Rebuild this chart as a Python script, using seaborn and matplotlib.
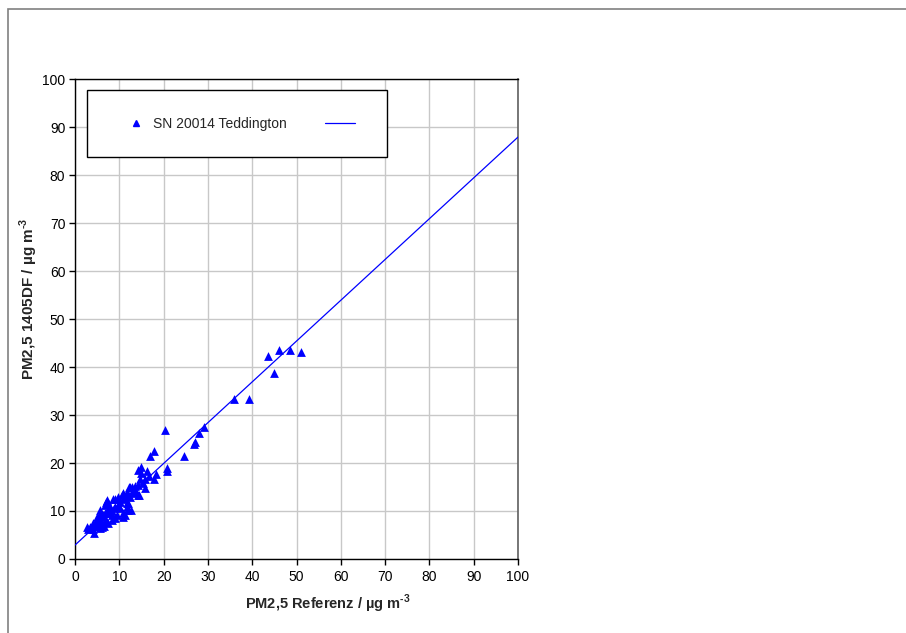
import matplotlib
matplotlib.use("Agg")
import matplotlib.pyplot as plt
from matplotlib.patches import Rectangle
from matplotlib.lines import Line2D
import seaborn as sns
import pandas as pd

# ---- data ----
series_name = "SN 20014 Teddington"
ref_x = [
    20.3, 17.8, 16.9, 15.0, 14.3, 15.0, 16.3, 18.3, 17.8, 20.7, 20.8, 24.7,
    26.9, 27.2, 28.1, 29.2, 35.9, 39.2, 43.5, 45.0, 46.0, 48.5, 51.0,
    14.7, 15.7, 16.6, 15.4, 14.3, 13.5, 12.8, 12.2, 15.8, 14.5, 13.8, 13.2,
    12.4, 12.0, 11.7, 11.3, 10.5, 9.8, 9.0, 12.0, 11.7, 12.6, 11.3, 10.9,
    10.2, 9.6, 8.7, 8.3, 7.5, 7.1, 7.9, 7.5, 6.8, 9.0, 8.3, 6.4, 5.6, 5.3,
    4.9, 6.0, 6.8, 5.3, 4.5, 3.4, 3.0, 4.1, 4.4, 6.0, 7.5, 6.6, 4.7,
    12.4, 10.9, 14.3, 8.6, 10.2, 11.7, 6.8, 12.0, 10.9, 5.6, 7.5, 9.0, 4.9,
    6.4, 8.3, 9.4, 4.1, 5.6, 7.1, 5.6, 2.7, 7.3, 13.0, 11.0,
]
dev_y = [
    26.9, 22.6, 21.5, 19.2, 18.6, 17.9, 18.4, 17.7, 16.7, 19.0, 18.4, 21.5,
    23.9, 24.4, 26.3, 27.4, 33.3, 33.3, 42.3, 38.7, 43.5, 43.5, 43.2,
    16.6, 16.7, 17.2, 15.8, 15.4, 15.2, 15.0, 15.1, 14.7, 13.3, 14.0, 13.7,
    13.0, 13.3, 14.0, 12.6, 13.3, 13.0, 12.4, 11.6, 10.9, 10.2, 9.2, 8.8,
    10.6, 11.3, 10.6, 9.9, 11.6, 11.9, 10.9, 9.6, 9.6, 8.5, 8.1, 8.8, 9.2, 8.5,
    7.8, 7.5, 7.8, 6.9, 6.9, 6.6, 6.2, 6.2, 5.4, 6.6, 7.5, 6.9, 7.5,
    15.1, 13.7, 13.3, 12.5, 11.9, 11.6, 11.3, 10.2, 9.5, 10.2, 10.5, 10.9, 8.8,
    9.2, 9.2, 9.2, 7.4, 7.4, 8.1, 6.4, 6.7, 12.3, 14.4, 12.8,
]
fit_x = [0, 100]
fit_y = [2.9, 87.9]

x_ticks = list(range(0, 101, 10))
y_ticks = list(range(0, 101, 10))
x_label = "PM2,5 Referenz / µg m$^{\\mathbf{\u2010}\\mathbf{3}}$"
y_label = "PM2,5 1405DF / µg m$^{\\mathbf{\u2010}\\mathbf{3}}$"

# ---- style ----
sns.set_style("white")
plt.rcParams["font.family"] = ["Liberation Sans", "DejaVu Sans"]
plt.rcParams["mathtext.fontset"] = "custom"
plt.rcParams["mathtext.rm"] = "Liberation Sans"
plt.rcParams["mathtext.bf"] = "Liberation Sans:bold"

fig = plt.figure(figsize=(9.06, 6.33), dpi=100)
fig.patch.set_facecolor("white")
ax = fig.add_axes([75 / 906, 1 - 559 / 633, 443 / 906, 480 / 633])

# outer frame (only left/top visible in reference)
fig.patches.append(Rectangle((8 / 906, -0.2), 1.5, 1.2 - 9 / 633,
                             transform=fig.transFigure, fill=False,
                             edgecolor="#808080", linewidth=1.2))

df = pd.DataFrame({"ref": ref_x, "dev": dev_y})
fit_df = pd.DataFrame({"x": fit_x, "y": fit_y})

sns.lineplot(data=fit_df, x="x", y="y", ax=ax, color="#0000ff",
             linewidth=0.9, zorder=3)
sns.scatterplot(data=df, x="ref", y="dev", ax=ax, marker="^", color="#0000ff",
                s=40, linewidth=0, zorder=4)

ax.set_xlim(0, 100)
ax.set_ylim(0, 100)
ax.set_xticks(x_ticks)
ax.set_yticks(y_ticks)
ax.grid(True, color="#c8c8c8", linewidth=1.0)
ax.set_axisbelow(True)
for s in ["left", "bottom", "top"]:
    ax.spines[s].set_color("black")
    ax.spines[s].set_linewidth(1.0)
ax.spines["right"].set_color("#606060")
ax.spines["right"].set_linewidth(1.2)
ax.tick_params(direction="out", length=4, width=1, colors="black",
               labelsize=10, left=True, bottom=True)
ax.tick_params(axis="x", pad=4)
ax.tick_params(axis="y", pad=3)

ax.set_xlabel(x_label, fontsize=10.5, fontweight="bold")
ax.set_ylabel(y_label, fontsize=11, fontweight="bold")
ax.xaxis.set_label_coords((328 - 75) / 443, -0.07)
ax.yaxis.set_label_coords(-0.08, (559 - 299) / 480)

# legend box
ax.add_patch(Rectangle((12 / 443, (559 - 157) / 480), 300 / 443, 67 / 480,
                       transform=ax.transAxes, facecolor="white",
                       edgecolor="black", linewidth=1.0, zorder=5))
handles = [
    Line2D([], [], marker="^", color="#0000ff", linestyle="none", markersize=4),
    Line2D([], [], color="#0000ff", linewidth=0.9),
]
leg = ax.legend(handles, [series_name, ""], ncol=2, loc="center",
                bbox_to_anchor=((239 - 75) / 443, (559 - 124) / 480),
                frameon=False, fontsize=10, handlelength=2.2,
                handletextpad=0.15, columnspacing=2.7)
leg.set_zorder(6)

fig.savefig("out.png", dpi=100, facecolor="white")
